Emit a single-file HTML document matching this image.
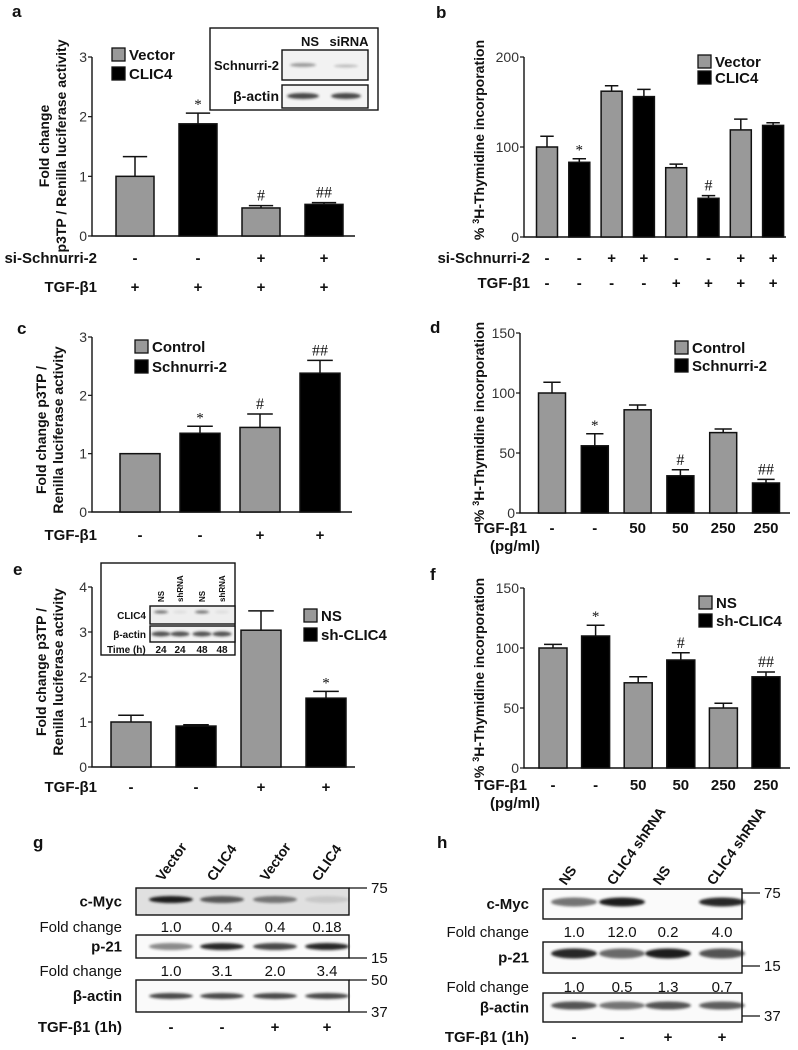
<!DOCTYPE html>
<html><head><meta charset="utf-8">
<style>
html,body{margin:0;padding:0;background:#fff;}
svg{display:block;font-family:"Liberation Sans",sans-serif;}
</style></head>
<body>
<svg id="fig" width="798" height="1050" viewBox="0 0 798 1050" xmlns="http://www.w3.org/2000/svg">
<defs>
<filter id="blur" x="-20%" y="-100%" width="140%" height="300%"><feGaussianBlur stdDeviation="1.3"/></filter>
</defs>
<g id="root"></g>
</svg>
<script>
// ---------- chart data ----------
const aValues=[1.0,1.88,0.47,0.53];
const aErrors=[0.33,0.18,0.04,0.03];
const aMarks=['','*','#','##'];
const aTicks=[0,1,2,3];
const aRow1=['-','-','+','+'];
const aRow2=['+','+','+','+'];

const bValues=[100,83,162,156,77,43,119,124];
const bErrors=[12,4,6,8,4,3,12,3];
const bMarks=['','*','','','','#','',''];
const bTicks=[0,100,200];
const bRow1=['-','-','+','+','-','-','+','+'];
const bRow2=['-','-','-','-','+','+','+','+'];

const cValues=[1.0,1.35,1.45,2.38];
const cErrors=[0,0.12,0.23,0.22];
const cMarks=['','*','#','##'];
const cTicks=[0,1,2,3];
const cRow=['-','-','+','+'];

const dValues=[100,56,86,31,67,25];
const dErrors=[9,10,4,5,3,3];
const dMarks=['','*','','#','','##'];
const dTicks=[0,50,100,150];
const dRow=['-','-','50','50','250','250'];

const eValues=[1.0,0.91,3.04,1.53];
const eErrors=[0.15,0.03,0.43,0.15];
const eMarks=['','','','*'];
const eTicks=[0,1,2,3,4];
const eRow=['-','-','+','+'];

const fValues=[100,110,71,90,50,76];
const fErrors=[3,9,5,6,4,4];
const fMarks=['','*','','#','','##'];
const fTicks=[0,50,100,150];
const fRow=['-','-','50','50','250','250'];

const gLanes=['Vector','CLIC4','Vector','CLIC4'];
const gMyc=['1.0','0.4','0.4','0.18'];
const gP21=['1.0','3.1','2.0','3.4'];
const gTgf=['-','-','+','+'];
const hLanes=['NS','CLIC4 shRNA','NS','CLIC4 shRNA'];
const hMyc=['1.0','12.0','0.2','4.0'];
const hP21=['1.0','0.5','1.3','0.7'];
const hTgf=['-','-','+','+'];

// ---------- helpers ----------
const NS='http://www.w3.org/2000/svg';
const root=document.getElementById('root');
function mk(tag,attrs,parent,text){
  const e=document.createElementNS(NS,tag);
  for(const k in attrs)e.setAttribute(k,attrs[k]);
  if(text!==undefined)e.textContent=text;
  (parent||root).appendChild(e);return e;
}
function txt(x,y,s,size,anchor,bold,parent,name){
  const t=mk('text',{x:x,y:y,'font-size':size,'text-anchor':anchor||'start','font-weight':bold?'bold':'normal',fill:'#111'},parent,s);
  
  
  return t;
}

function barChart(id,o,values,errors,marks,ticks){
  const g=mk('g',{});
  
  
  const yS=v=>o.y0-(v-o.min)/(o.max-o.min)*(o.y0-o.y1);
  const xS=i=>o.c0+i*o.step;
  const ax=mk('path',{d:`M${o.ax},${o.y1} V${o.y0} H${o.axEnd}`,stroke:'#111','stroke-width':1.4,fill:'none'},g);
  
  
  ticks.forEach(t=>{
    const tk=mk('line',{x1:o.ax-4,x2:o.ax,y1:yS(t),y2:yS(t),stroke:'#111','stroke-width':1.2},g);
    
    
    const tl=mk('text',{x:o.ax-5,y:yS(t)+5,'font-size':14,'text-anchor':'end',fill:'#333'},g,String(t));
    
    
  });
  values.forEach((v,i)=>{
    const cx=xS(i),top=yS(v+errors[i]);
    if(errors[i]>0){
      const eb=mk('path',{d:`M${cx},${yS(v)} V${top} M${cx-o.w*0.32},${top} H${cx+o.w*0.32}`,stroke:'#111','stroke-width':1.5,fill:'none'},g);
      
      
    }
    const r=mk('rect',{x:cx-o.w/2,y:yS(v),width:o.w,height:o.y0-yS(v),fill:i%2?'#000':'#999',stroke:'#111','stroke-width':1.5},g);
    
    
    if(marks[i]){
      const m=mk('text',{x:cx,y:top-(marks[i]==='*'?4:5),'font-size':marks[i]==='*'?15:16,'text-anchor':'middle',fill:'#111','font-family':'Liberation Serif, serif'},g,marks[i]);
      
      
    }
  });
  o.legend.forEach((l,i)=>{
    const ly=o.ly+i*o.lgap;
    const s=mk('rect',{x:o.lx,y:ly,width:13,height:13,fill:i?'#000':'#999',stroke:'#111','stroke-width':1.3},g);
    
    
    txt(o.lx+17,ly+12,l,15,'start',true,g,'legend-entry');
  });
  o.title.forEach((t,i)=>{
    const tt=mk('text',{x:0,y:0,'font-size':14,'font-weight':'bold','text-anchor':'middle',fill:'#111',transform:`translate(${o.tx+i*17},${o.ty}) rotate(-90)`},g);
    
    
    if(o.sup && i===0){
      tt.appendChild(document.createTextNode('% '));
      const sp=document.createElementNS(NS,'tspan');sp.setAttribute('font-size',9);sp.setAttribute('dy',-5);sp.textContent='3';tt.appendChild(sp);
      const sp2=document.createElementNS(NS,'tspan');sp2.setAttribute('dy',5);sp2.textContent='H-Thymidine incorporation';tt.appendChild(sp2);
    } else tt.textContent=t;
  });
  o.rows.forEach(row=>{
    txt(o.rowLabelX,row.y,row.label,15,'end',true,g,'row-label');
    row.vals.forEach((s,i)=>txt(xS(i),row.y,s,15,'middle',true,g,'row-value'));
    if(row.sub) txt(o.rowLabelX-37,row.y+18,row.sub,15,'start',true,g,'row-unit');
  });
  txt(o.px,o.py,id,17,'start',true,g,'panel-label-'+id);
  return g;
}

// ---------- panels ----------
barChart('a',{min:0,max:3,y0:236,y1:57,ax:92,axEnd:355,c0:135,step:63,w:38,lx:112,ly:48,lgap:19,legend:['Vector','CLIC4'],
  title:['Fold change','p3TP / Renilla luciferase activity'],tx:49,ty:146,rows:[{label:'si-Schnurri-2',y:263,vals:aRow1},{label:'TGF-β1',y:292,vals:aRow2}],rowLabelX:97,px:12,py:17},
  aValues,aErrors,aMarks,aTicks);
barChart('b',{min:0,max:200,y0:237,y1:57,ax:524,axEnd:786,c0:547,step:32.3,w:21,lx:698,ly:55,lgap:16,legend:['Vector','CLIC4'],sup:true,
  title:['%'],tx:484,ty:140,rows:[{label:'si-Schnurri-2',y:263,vals:bRow1},{label:'TGF-β1',y:288,vals:bRow2}],rowLabelX:530,px:436,py:18},
  bValues,bErrors,bMarks,bTicks);
barChart('c',{min:0,max:3,y0:512,y1:337,ax:92,axEnd:352,c0:140,step:60,w:40,lx:135,ly:340,lgap:20,legend:['Control','Schnurri-2'],
  title:['Fold change p3TP /','Renilla luciferase activity'],tx:46,ty:430,rows:[{label:'TGF-β1',y:540,vals:cRow}],rowLabelX:97,px:17,py:334},
  cValues,cErrors,cMarks,cTicks);
barChart('d',{min:0,max:150,y0:513,y1:333,ax:520,axEnd:790,c0:552,step:42.8,w:27,lx:675,ly:341,lgap:18,legend:['Control','Schnurri-2'],sup:true,
  title:['%'],tx:484,ty:422,rows:[{label:'TGF-β1',y:533,vals:dRow,sub:'(pg/ml)'}],rowLabelX:527,px:430,py:333},
  dValues,dErrors,dMarks,dTicks);
barChart('e',{min:0,max:4,y0:767,y1:587,ax:92,axEnd:355,c0:131,step:65,w:40,lx:304,ly:609,lgap:19,legend:['NS','sh-CLIC4'],
  title:['Fold change p3TP /','Renilla luciferase activity'],tx:46,ty:672,rows:[{label:'TGF-β1',y:792,vals:eRow}],rowLabelX:97,px:13,py:575},
  eValues,eErrors,eMarks,eTicks);
barChart('f',{min:0,max:150,y0:768,y1:588,ax:524,axEnd:790,c0:553,step:42.6,w:28,lx:699,ly:596,lgap:18,legend:['NS','sh-CLIC4'],sup:true,
  title:['%'],tx:484,ty:678,rows:[{label:'TGF-β1',y:790,vals:fRow,sub:'(pg/ml)'}],rowLabelX:527,px:430,py:580},
  fValues,fErrors,fMarks,fTicks);

// ---------- blots ----------
function band(g,cx,cy,w,h,op){
  const e=mk('ellipse',{cx:cx,cy:cy,rx:w/2,ry:h/2,fill:'#1a1a1a',opacity:op,filter:'url(#blur)'},g);
  
  
}
function box(g,x,y,w,h,name,fill){
  const r=mk('rect',{x:x,y:y,width:w,height:h,fill:fill||'#fff',stroke:'#111','stroke-width':1.4},g);
  
  
}
(function(){
  const g=mk('g',{});
  box(g,210,28,168,82,'inset-frame');
  box(g,282,50,86,30,'schnurri-blot','#f2f2f2');
  box(g,282,85,86,23,'actin-blot','#f4f4f4');
  band(g,303,65,26,4,0.4);band(g,346,66,24,3,0.25);
  band(g,303,96,32,6,0.8);band(g,346,96,30,6,0.8);
  txt(310,46,'NS',13,'middle',true,g);txt(349,46,'siRNA',13,'middle',true,g);
  txt(279,70,'Schnurri-2',13,'end',true,g);txt(279,101,'β-actin',14,'end',true,g);
})();
(function(){
  const g=mk('g',{});
  box(g,101,563,134,92,'inset-frame');
  box(g,150,606,85,18,'clic4-blot','#eee');
  box(g,150,626,85,16,'actin-blot','#f2f2f2');
  const xs=[161,180,202,222];
  [0.6,0.08,0.6,0.08].forEach((o,i)=>band(g,xs[i],612,14,3,o));
  xs.forEach(x=>band(g,x,634,19,5,0.75));
  ['NS','shRNA','NS','shRNA'].forEach((s,i)=>{
    const t=mk('text',{x:0,y:0,'font-size':8,'font-weight':'bold',fill:'#111',transform:`translate(${xs[i]+3},602) rotate(-90)`},g,s);
    
  });
  txt(146,619,'CLIC4',10,'end',true,g);txt(146,638,'β-actin',10,'end',true,g);
  txt(107,653,'Time (h)',10,'start',true,g);
  ['24','24','48','48'].forEach((s,i)=>txt(xs[i],653,s,10,'middle',true,g));
})();

function western(id,o,lanes,myc,p21,tgf){
  const g=mk('g',{});
  txt(o.px,o.py,id,17,'start',true,g,'panel-label-'+id);
  lanes.forEach((l,i)=>{
    const t=mk('text',{x:0,y:0,'font-size':14,'font-weight':'bold',fill:'#111',transform:`translate(${o.lx[i]-8},${o.labY}) rotate(-55)`},g,l);
    
  });
  o.boxes.forEach((b,k)=>{
    box(g,o.x,b[0],o.w,b[1]-b[0],['c-myc-blot','p21-blot','actin-blot'][k],k===0&&o.grayMyc?'#e0e0e0':'#fafafa');
    txt(o.x-14,(b[0]+b[1])/2+5,['c-Myc','p-21','β-actin'][k],15,'end',true,g);
    o.bands[k].forEach((op,i)=>{ if(op>0) band(g,o.lx[i],(b[0]+b[1])/2+o.boff[k],o.bw,o.bh[k],op); });
  });
  [[o.fc1,myc],[o.fc2,p21]].forEach(([y,vals])=>{
    txt(o.x-14,y,'Fold change',15,'end',false,g,'fold-change-label');
    vals.forEach((v,i)=>txt(o.lx[i],y,v,15,'middle',false,g,'fold-change-value'));
  });
  o.mw.forEach(m=>{
    const ln=mk('line',{x1:o.x+o.w,x2:o.x+o.w+18,y1:m[1],y2:m[1],stroke:'#111','stroke-width':1.2},g);
    
    txt(o.x+o.w+22,m[1]+5,m[0],15,'start',false,g,'mw-label');
  });
  txt(o.x-14,o.tgfY,'TGF-β1  (1h)',15,'end',true,g,'row-label');
  tgf.forEach((s,i)=>txt(o.lx[i],o.tgfY,s,15,'middle',true,g,'row-value'));
}
western('g',{px:33,py:848,x:136,w:213,lx:[171,222,275,327],labY:882,grayMyc:true,
  boxes:[[888,915],[935,958],[980,1012]],boff:[-2,0,0],bw:44,bh:[7,7,6],
  bands:[[1,0.7,0.55,0.12],[0.5,0.95,0.8,0.95],[0.8,0.8,0.8,0.8]],
  fc1:932,fc2:976,mw:[['75',888],['15',958],['50',980],['37',1012]],tgfY:1032},
  gLanes,gMyc,gP21,gTgf);
western('h',{px:437,py:848,x:543,w:199,lx:[574,622,668,722],labY:886,grayMyc:false,
  boxes:[[889,919],[942,973],[993,1022]],boff:[-2,-4,-2],bw:46,bh:[9,10,8],
  bands:[[0.6,1,0,0.95],[0.95,0.65,1,0.75],[0.75,0.6,0.75,0.7]],
  fc1:937,fc2:992,mw:[['75',893],['15',966],['37',1016]],tgfY:1042},
  hLanes,hMyc,hP21,hTgf);
</script>
</body></html>
